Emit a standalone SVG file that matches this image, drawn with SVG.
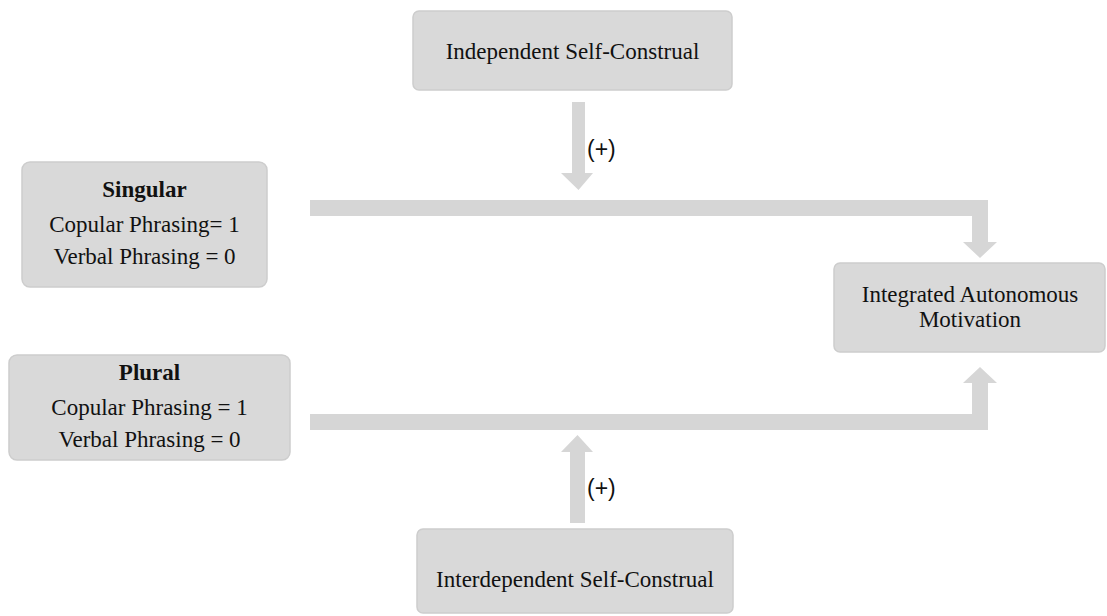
<svg xmlns="http://www.w3.org/2000/svg" width="1107" height="616" viewBox="0 0 1107 616">
<style>
.box{fill:#d9d9d9;stroke:#cdcdcd;stroke-width:1.5}
.arr{fill:#d6d6d6}
.t{font-family:"Liberation Serif",serif;font-size:23px;fill:#111;text-anchor:middle}
.b{font-weight:bold}
.lab{font-family:"Liberation Sans",sans-serif;font-size:23px;fill:#111}
</style>
<rect width="1107" height="616" fill="#fff"/>
<g id="connectors">
<path class="arr" d="M572,102 H585 V173 H593 L578.5,190 L561,173 H572 Z"/>
<text class="lab" x="587" y="157">(+)</text>
<path class="arr" d="M310,200 H988 V242 H997 L980,258 L963,242 H972 V216 H310 Z"/>
<path class="arr" d="M310,414 H972 V383 H963 L980,367 L997,383 H988 V430 H310 Z"/>
<path class="arr" d="M570,523 H585 V452 H593 L577.5,435 L561,452 H570 Z"/>
<text class="lab" x="587" y="496">(+)</text>
</g>
<g id="independent">
<rect class="box" x="413" y="11" width="319" height="79" rx="6"/>
<text class="t" x="572.5" y="59">Independent Self-Construal</text>
</g>
<g id="singular">
<rect class="box" x="22" y="162" width="245" height="125" rx="8"/>
<text class="t b" x="144.5" y="197">Singular</text>
<text class="t" x="144.5" y="232">Copular Phrasing= 1</text>
<text class="t" x="144.5" y="264">Verbal Phrasing = 0</text>
</g>
<g id="plural">
<rect class="box" x="9" y="355" width="281" height="105" rx="8"/>
<text class="t b" x="149.5" y="380">Plural</text>
<text class="t" x="149.5" y="415">Copular Phrasing = 1</text>
<text class="t" x="149.5" y="447">Verbal Phrasing = 0</text>
</g>
<g id="outcome">
<rect class="box" x="834" y="263" width="271" height="89" rx="6"/>
<text class="t" x="970" y="302">Integrated Autonomous</text>
<text class="t" x="970" y="327">Motivation</text>
</g>
<g id="interdependent">
<rect class="box" x="417" y="529" width="316" height="84" rx="6"/>
<text class="t" x="575" y="587">Interdependent Self-Construal</text>
</g>
</svg>
